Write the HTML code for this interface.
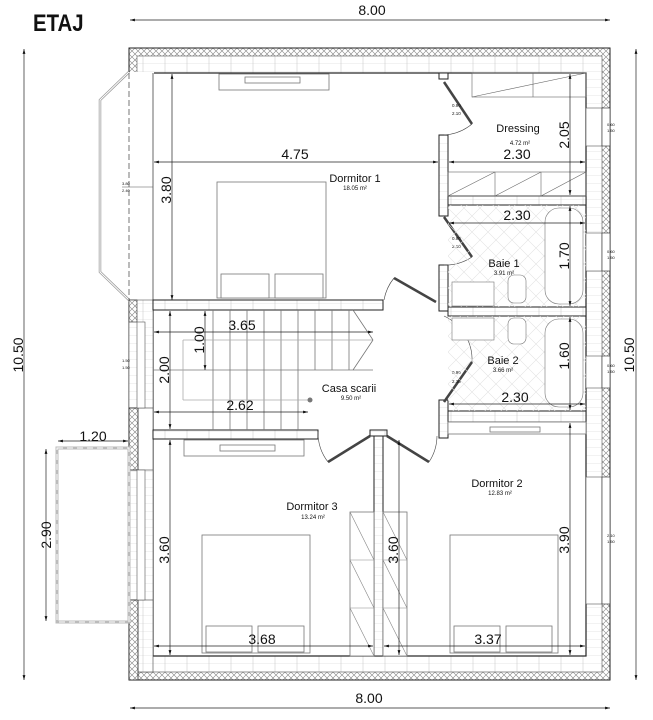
<!DOCTYPE html>
<html><head><meta charset="utf-8"><style>
html,body{margin:0;padding:0;background:#fff;}
svg{display:block;}
text{font-family:"Liberation Sans",sans-serif;fill:#111;}
</style></head><body>
<svg width="653" height="720" viewBox="0 0 653 720" xmlns="http://www.w3.org/2000/svg">
<defs>
<pattern id="hx" width="6" height="6" patternUnits="userSpaceOnUse">
<rect width="6" height="6" fill="#fff"/><path d="M0 3 L3 0 L6 3 L3 6 Z" fill="none" stroke="#888" stroke-width="0.6"/>
</pattern>
<pattern id="br" width="22" height="8" patternUnits="userSpaceOnUse">
<rect width="22" height="8" fill="#fff"/><path d="M0 8H22 M11 0V8" stroke="#ccc" stroke-width="0.6"/>
</pattern>
<pattern id="tile" width="16" height="16" patternUnits="userSpaceOnUse">
<path d="M0 0L16 16 M16 0L0 16" stroke="#e2e2e2" stroke-width="0.6"/>
</pattern>
<marker id="a" markerWidth="8" markerHeight="6" refX="7" refY="3" orient="auto-start-reverse"><path d="M0 1L7 3L0 5Z" fill="#111"/></marker>
</defs>

<text transform="translate(33,31) scale(0.85,1)" font-size="24" font-weight="bold">ETAJ</text>

<rect x="129" y="48" width="481" height="632" fill="url(#hx)" stroke="#222" stroke-width="1"/>
<rect x="137" y="56" width="465" height="616" fill="url(#br)" stroke="#555" stroke-width="0.6"/>
<rect x="153" y="73" width="433" height="583" fill="#fff" stroke="#222" stroke-width="1.2"/>

<rect x="126" y="72" width="28" height="230" fill="#fff"/>
<path d="M129 72 L100 100 L100 272 L129 300" fill="none" stroke="#999" stroke-width="2.5"/>
<path d="M129 72 L100 100 L100 272 L129 300" fill="none" stroke="#fff" stroke-width="1"/>
<line x1="129" y1="73" x2="129" y2="300" stroke="#555" stroke-dasharray="6,3" stroke-width="0.8"/>
<line x1="153" y1="73" x2="153" y2="300" stroke="#444" stroke-width="0.8"/>
<text x="122" y="185" font-size="4">3.80</text><text x="122" y="192" font-size="4">2.40</text>
<line x1="122" y1="187" x2="153" y2="187" stroke="#555" stroke-width="0.5"/>

<rect x="129" y="300" width="24" height="356" fill="url(#br)" stroke="#555" stroke-width="0.6"/>
<rect x="129" y="300" width="8" height="22" fill="url(#hx)" stroke="#222" stroke-width="0.6"/>
<rect x="129" y="408" width="24" height="62" fill="#fff" stroke="#444" stroke-width="0.6"/>
<rect x="129" y="408" width="9" height="62" fill="url(#hx)" stroke="#222" stroke-width="0.8"/>
<rect x="129" y="600" width="24" height="72" fill="url(#br)" stroke="#444" stroke-width="0.6"/>
<rect x="129" y="600" width="9" height="80" fill="url(#hx)" stroke="#222" stroke-width="0.8"/>
<rect x="137" y="470" width="8" height="130" fill="#fff" stroke="#555" stroke-width="0.6"/>
<rect x="137" y="322" width="8" height="86" fill="#fff" stroke="#555" stroke-width="0.6"/>
<text x="122" y="362" font-size="4">1.50</text><text x="122" y="369" font-size="4">1.50</text>
<text x="122" y="537" font-size="4">2.10</text><text x="122" y="544" font-size="4">1.50</text>

<rect x="586" y="108" width="16" height="38" fill="#fff" stroke="#555" stroke-width="0.6"/>
<rect x="602" y="108" width="8" height="38" fill="#fff" stroke="#222" stroke-width="0.6"/>
<rect x="586" y="233" width="16" height="38" fill="#fff" stroke="#555" stroke-width="0.6"/>
<rect x="602" y="233" width="8" height="38" fill="#fff" stroke="#222" stroke-width="0.6"/>
<rect x="586" y="356" width="16" height="32" fill="#fff" stroke="#555" stroke-width="0.6"/>
<rect x="602" y="356" width="8" height="32" fill="#fff" stroke="#222" stroke-width="0.6"/>
<rect x="586" y="477" width="16" height="127" fill="#fff" stroke="#555" stroke-width="0.6"/>
<rect x="602" y="477" width="8" height="127" fill="#fff" stroke="#222" stroke-width="0.6"/>
<text x="607" y="126" font-size="4">0.60</text><text x="607" y="132" font-size="4">1.50</text>
<text x="607" y="253" font-size="4">0.60</text><text x="607" y="259" font-size="4">1.50</text>
<text x="607" y="367" font-size="4">0.60</text><text x="607" y="373" font-size="4">1.50</text>
<text x="607" y="537" font-size="4">2.10</text><text x="607" y="543" font-size="4">1.50</text>

<rect x="57" y="448" width="72" height="174" fill="#fff" stroke="#bbb" stroke-width="3"/>
<rect x="57" y="448" width="72" height="174" fill="none" stroke="#fff" stroke-width="1" stroke-dasharray="6,4"/>

<g fill="url(#br)" stroke="#222" stroke-width="1">
<rect x="153" y="300" width="230" height="10"/>
<rect x="439" y="73" width="9" height="6"/>
<rect x="439" y="135" width="9" height="81"/>
<rect x="448" y="196" width="138" height="9"/>
<rect x="439" y="265" width="9" height="46"/>
<rect x="448" y="307" width="138" height="9"/>
<rect x="439" y="400" width="9" height="38"/>
<rect x="448" y="411" width="138" height="11"/>
<rect x="153" y="430" width="165" height="9"/>
<rect x="374" y="430" width="9" height="226"/>
<rect x="370" y="430" width="17" height="6"/>
</g>

<g stroke="#444" fill="none" stroke-width="0.6">
<line x1="444" y1="82" x2="472" y2="124" stroke-width="2.5"/><path d="M472 124 A48 48 0 0 1 444 135"/>
<line x1="444" y1="217" x2="472" y2="257" stroke-width="2.5"/><path d="M472 257 A48 48 0 0 1 444 265"/>
<line x1="444" y1="402" x2="472" y2="362" stroke-width="2.5"/><path d="M472 362 A48 48 0 0 0 444 316"/>
<line x1="436" y1="302" x2="394" y2="278" stroke-width="2.5"/><path d="M394 278 A48 48 0 0 0 384 300"/>
<line x1="370" y1="436" x2="328" y2="462" stroke-width="2.5"/><path d="M328 462 A48 48 0 0 1 318 432"/>
<line x1="387" y1="436" x2="429" y2="462" stroke-width="2.5"/><path d="M429 462 A48 48 0 0 0 437 436"/>
</g>
<g font-size="4.5">
<text x="452" y="107">0.90</text><text x="452" y="115">2.10</text>
<text x="452" y="240">0.90</text><text x="452" y="248">2.10</text>
<text x="452" y="374">0.90</text><text x="452" y="383">2.10</text>
</g>

<g stroke="#666" fill="none" stroke-width="0.6">
<rect x="472" y="73" width="114" height="24"/><line x1="472" y1="97" x2="586" y2="73"/><line x1="533" y1="73" x2="533" y2="97"/>
<rect x="448" y="172" width="138" height="24"/><line x1="448" y1="196" x2="495" y2="172"/><line x1="495" y1="172" x2="495" y2="196"/><line x1="495" y1="196" x2="541" y2="172"/><line x1="541" y1="172" x2="541" y2="196"/><line x1="541" y1="196" x2="586" y2="172"/>
</g>
<rect x="448" y="205" width="138" height="102" fill="url(#tile)"/>
<rect x="448" y="316" width="138" height="95" fill="url(#tile)"/>
<g stroke="#777" fill="#fff" stroke-width="0.6">
<rect x="545" y="208" width="38" height="96" rx="14"/>
<rect x="452" y="282" width="42" height="24"/><rect x="508" y="275" width="18" height="28" rx="6"/>
<rect x="545" y="319" width="38" height="88" rx="14"/>
<rect x="452" y="318" width="42" height="22"/><rect x="508" y="318" width="18" height="26" rx="6"/>
</g>

<g stroke="#777" fill="#fff" stroke-width="0.8">
<rect x="219" y="74" width="110" height="16"/><rect x="245" y="77" width="55" height="6"/>
<rect x="217" y="182" width="109" height="116"/><rect x="221" y="274" width="48" height="24"/><rect x="275" y="274" width="48" height="24"/>
<rect x="184" y="440" width="120" height="16"/><rect x="220" y="445" width="55" height="6"/>
<rect x="202" y="535" width="108" height="118"/><rect x="206" y="626" width="46" height="26"/><rect x="258" y="626" width="46" height="26"/>
<rect x="448" y="422" width="138" height="12"/><rect x="490" y="427" width="50" height="5"/>
<rect x="450" y="535" width="108" height="118"/><rect x="454" y="626" width="46" height="26"/><rect x="506" y="626" width="46" height="26"/>
<rect x="350" y="512" width="24" height="144"/><rect x="383" y="512" width="24" height="144"/>
</g>
<g stroke="#888" stroke-width="0.6">
<line x1="350" y1="512" x2="374" y2="560"/><line x1="350" y1="560" x2="374" y2="608"/><line x1="350" y1="608" x2="374" y2="656"/>
<line x1="383" y1="512" x2="407" y2="560"/><line x1="383" y1="560" x2="407" y2="608"/><line x1="383" y1="608" x2="407" y2="656"/>
<line x1="350" y1="560" x2="374" y2="560"/><line x1="350" y1="608" x2="374" y2="608"/><line x1="383" y1="560" x2="407" y2="560"/><line x1="383" y1="608" x2="407" y2="608"/>
</g>

<g stroke="#777" stroke-width="0.8">
<line x1="153" y1="370" x2="373" y2="370"/>
<line x1="213" y1="310" x2="213" y2="430"/><line x1="230" y1="310" x2="230" y2="430"/><line x1="247" y1="310" x2="247" y2="430"/><line x1="264" y1="310" x2="264" y2="430"/><line x1="281" y1="310" x2="281" y2="430"/><line x1="298" y1="310" x2="298" y2="430"/><line x1="315" y1="310" x2="315" y2="370"/><line x1="332" y1="310" x2="332" y2="370"/><line x1="349" y1="310" x2="349" y2="370"/>
<line x1="183" y1="340" x2="373" y2="340" stroke="#aaa"/><line x1="183" y1="340" x2="183" y2="400" stroke="#aaa"/><line x1="183" y1="400" x2="310" y2="400" stroke="#aaa"/>
<line x1="353" y1="310" x2="373" y2="340"/><line x1="373" y1="340" x2="353" y2="370"/>
</g>
<circle cx="310" cy="400" r="2.5" fill="#777"/>

<g stroke="#222" stroke-width="0.7" fill="none">
<line x1="130" y1="20" x2="610" y2="20" marker-start="url(#a)" marker-end="url(#a)"/>
<line x1="130" y1="708" x2="610" y2="708" marker-start="url(#a)" marker-end="url(#a)"/>
<line x1="24" y1="49" x2="24" y2="680" marker-start="url(#a)" marker-end="url(#a)"/>
<line x1="636" y1="49" x2="636" y2="680" marker-start="url(#a)" marker-end="url(#a)"/>
<line x1="154" y1="162" x2="438" y2="162" marker-start="url(#a)" marker-end="url(#a)"/>
<line x1="449" y1="162" x2="585" y2="162" marker-start="url(#a)" marker-end="url(#a)"/>
<line x1="570" y1="74" x2="570" y2="195" marker-start="url(#a)" marker-end="url(#a)"/>
<line x1="449" y1="223" x2="585" y2="223" marker-start="url(#a)" marker-end="url(#a)"/>
<line x1="570" y1="206" x2="570" y2="306" marker-start="url(#a)" marker-end="url(#a)"/>
<line x1="172" y1="74" x2="172" y2="300" marker-start="url(#a)" marker-end="url(#a)"/>
<line x1="154" y1="332" x2="373" y2="332" marker-start="url(#a)" marker-end="url(#a)"/>
<line x1="205" y1="311" x2="205" y2="370" marker-start="url(#a)" marker-end="url(#a)"/>
<line x1="170" y1="311" x2="170" y2="429" marker-start="url(#a)" marker-end="url(#a)"/>
<line x1="154" y1="412" x2="308" y2="412" marker-start="url(#a)" marker-end="url(#a)"/>
<line x1="570" y1="317" x2="570" y2="410" marker-start="url(#a)" marker-end="url(#a)"/>
<line x1="449" y1="404" x2="585" y2="404" marker-start="url(#a)" marker-end="url(#a)"/>
<line x1="570" y1="423" x2="570" y2="655" marker-start="url(#a)" marker-end="url(#a)"/>
<line x1="384" y1="646" x2="585" y2="646" marker-start="url(#a)" marker-end="url(#a)"/>
<line x1="154" y1="646" x2="373" y2="646" marker-start="url(#a)" marker-end="url(#a)"/>
<line x1="170" y1="440" x2="170" y2="655" marker-start="url(#a)" marker-end="url(#a)"/>
<line x1="399" y1="440" x2="399" y2="655" marker-start="url(#a)" marker-end="url(#a)"/>
<line x1="58" y1="441" x2="128" y2="441" marker-start="url(#a)" marker-end="url(#a)"/>
<line x1="46" y1="449" x2="46" y2="621" marker-start="url(#a)" marker-end="url(#a)"/>
</g>

<g font-size="14" text-anchor="middle">
<text x="372" y="15">8.00</text>
<text x="369" y="703">8.00</text>
<text x="295" y="159">4.75</text>
<text x="517" y="159">2.30</text>
<text x="517" y="220">2.30</text>
<text x="242" y="330">3.65</text>
<text x="240" y="410">2.62</text>
<text x="515" y="402">2.30</text>
<text x="262" y="644">3.68</text>
<text x="488" y="644">3.37</text>
<text x="93" y="441">1.20</text>
<text transform="translate(23,355) rotate(-90)">10.50</text>
<text transform="translate(634,355) rotate(-90)">10.50</text>
<text transform="translate(171,190) rotate(-90)">3.80</text>
<text transform="translate(569,135) rotate(-90)">2.05</text>
<text transform="translate(569,256) rotate(-90)">1.70</text>
<text transform="translate(569,356) rotate(-90)">1.60</text>
<text transform="translate(569,540) rotate(-90)">3.90</text>
<text transform="translate(204,340) rotate(-90)">1.00</text>
<text transform="translate(169,370) rotate(-90)">2.00</text>
<text transform="translate(169,550) rotate(-90)">3.60</text>
<text transform="translate(398,550) rotate(-90)">3.60</text>
<text transform="translate(51,535) rotate(-90)">2.90</text>
</g>
<g text-anchor="middle">
<text x="518" y="132" font-size="11">Dressing</text><text x="520" y="145" font-size="6">4.72 m²</text>
<text x="355" y="182" font-size="11">Dormitor 1</text><text x="355" y="190" font-size="6">18.05 m²</text>
<text x="504" y="267" font-size="11">Baie 1</text><text x="504" y="275" font-size="6">3.91 m²</text>
<text x="503" y="364" font-size="11">Baie 2</text><text x="503" y="372" font-size="6">3.66 m²</text>
<text x="349" y="392" font-size="11">Casa scarii</text><text x="351" y="400" font-size="6">9.50 m²</text>
<text x="497" y="487" font-size="11">Dormitor 2</text><text x="500" y="495" font-size="6">12.83 m²</text>
<text x="312" y="510" font-size="11">Dormitor 3</text><text x="313" y="519" font-size="6">13.24 m²</text>
</g>
</svg>
</body></html>
